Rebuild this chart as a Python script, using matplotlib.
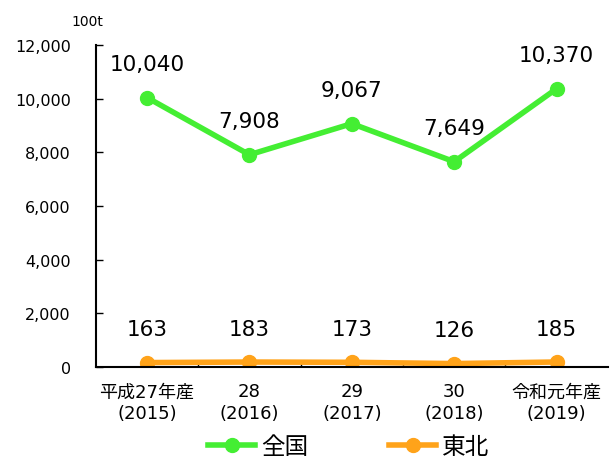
import matplotlib
matplotlib.use('Agg')
import matplotlib.pyplot as plt
import numpy as np

plt.rcParams['font.family'] = ['DejaVu Sans', 'Noto Sans CJK JP']

categories = ['平成27年産\n(2015)', '28\n(2016)', '29\n(2017)', '30\n(2018)', '令和元年産\n(2019)']
zenkoku = [10040, 7908, 9067, 7649, 10370]
tohoku = [163, 183, 173, 126, 185]

green = '#44ee33'
orange = '#ffa31a'

fig = plt.figure(figsize=(6.14, 4.64), dpi=100)
ax = fig.add_axes([0.156, 0.207, 0.834, 0.694])

x = np.arange(len(categories))
ax.plot(x, zenkoku, color=green, lw=4, marker='o', ms=10, label='全国')
ax.plot(x, tohoku, color=orange, lw=4, marker='o', ms=10, label='東北')

for xi, v in zip(x, zenkoku):
    ax.annotate(f'{v:,}', (xi, v), xytext=(0, 24), textcoords='offset points',
                ha='center', va='center', fontsize=15.5)
for xi, v in zip(x, tohoku):
    ax.annotate(f'{v:,}', (xi, v), xytext=(0, 24), textcoords='offset points',
                ha='center', va='center', fontsize=15.5)

ax.set_xlim(-0.5, len(categories) - 0.5)
ax.set_ylim(0, 12000)
ax.set_yticks(np.arange(0, 12001, 2000))
ax.yaxis.set_major_formatter(matplotlib.ticker.FuncFormatter(lambda v, p: f'{int(v):,}'))
ax.set_xticks(x)
ax.set_xticklabels(categories, fontsize=13, linespacing=1.25)
ax.set_xticks(np.arange(0.5, len(categories) - 1), minor=True)
ax.tick_params(axis='x', which='major', length=0, pad=11)
ax.tick_params(axis='x', which='minor', direction='in', length=4, width=1)
ax.tick_params(axis='y', direction='in', length=5, width=1, labelsize=11.5, pad=18)

for s in ['top', 'right']:
    ax.spines[s].set_visible(False)
for s in ['left', 'bottom']:
    ax.spines[s].set_linewidth(1.5)

fig.text(0.143, 0.953, '100t', fontsize=10, ha='center', va='center')

fig.legend(loc='center', bbox_to_anchor=(0.568, 0.037), ncol=2, frameon=False,
           fontsize=17, handlelength=2.0, handletextpad=0.25, columnspacing=3.4)

fig.savefig('out.png', dpi=100)
